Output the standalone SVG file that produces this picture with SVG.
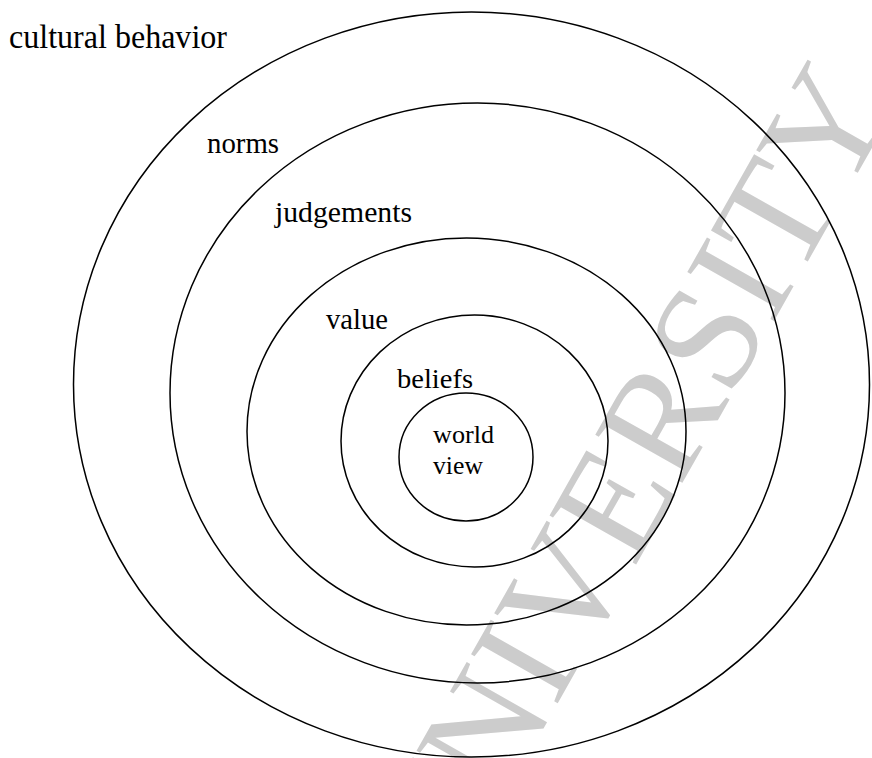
<svg xmlns="http://www.w3.org/2000/svg" width="872" height="758" viewBox="0 0 872 758">
<style>
.ring{fill:none;stroke:#000;stroke-width:1.5}
.lbl{font-family:"Liberation Serif","Times New Roman",serif;fill:#000}
.wm{font-family:"Liberation Serif","Times New Roman",serif;font-size:152px;fill:#cccccc}
</style>
<rect width="872" height="758" fill="#fff"/>
<text class="wm" transform="translate(447,899) rotate(-60.5)">UNIVERSITY</text>
<g id="cultural-behavior"><ellipse class="ring" cx="471.5" cy="384.5" rx="398" ry="372.5"/><text class="lbl" x="9" y="48" font-size="33" textLength="218" lengthAdjust="spacingAndGlyphs">cultural behavior</text></g>
<g id="norms"><ellipse class="ring" cx="477.5" cy="393" rx="307.5" ry="290"/><text class="lbl" x="207" y="153" font-size="30" textLength="72" lengthAdjust="spacingAndGlyphs">norms</text></g>
<g id="judgements"><ellipse class="ring" cx="466.5" cy="431.5" rx="219.5" ry="193.5"/><text class="lbl" x="275" y="222" font-size="30" textLength="137" lengthAdjust="spacingAndGlyphs">judgements</text></g>
<g id="value"><ellipse class="ring" cx="474.5" cy="441" rx="133.5" ry="126"/><text class="lbl" x="326" y="329" font-size="29" textLength="62" lengthAdjust="spacingAndGlyphs">value</text></g>
<g id="beliefs"><text class="lbl" x="397" y="388" font-size="28" textLength="76" lengthAdjust="spacingAndGlyphs">beliefs</text></g>
<g id="world-view"><ellipse class="ring" cx="466" cy="457" rx="67" ry="64"/><text class="lbl" x="433" y="443" font-size="26" textLength="61" lengthAdjust="spacingAndGlyphs">world</text><text class="lbl" x="433" y="474" font-size="26" textLength="50" lengthAdjust="spacingAndGlyphs">view</text></g>
</svg>
